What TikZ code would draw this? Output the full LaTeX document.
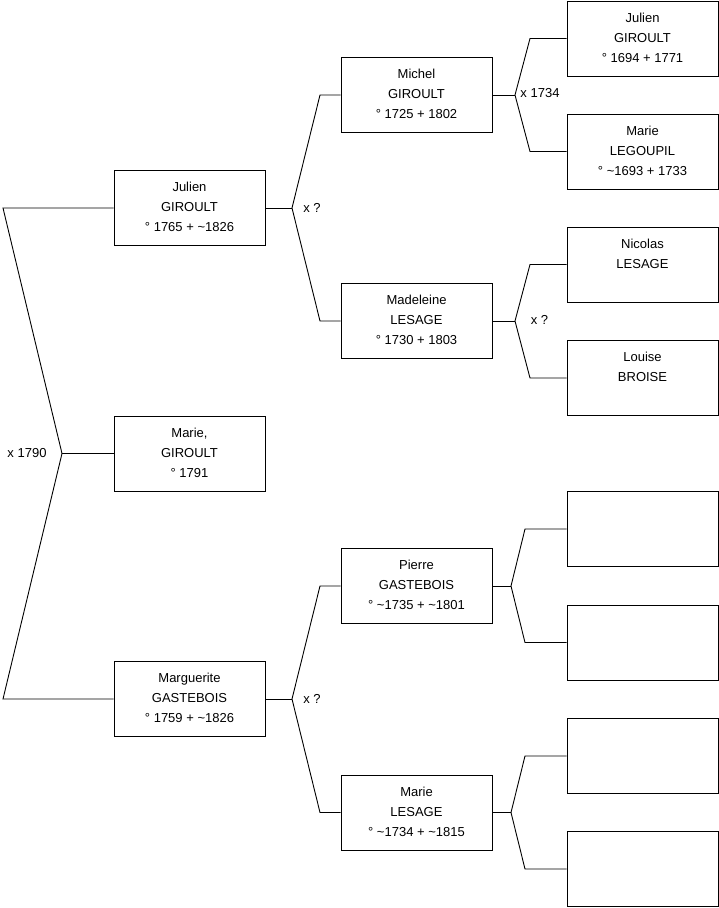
\documentclass[tikz,border=0pt]{standalone}
\usepackage{fontspec}
\setmainfont{Liberation Sans}
\begin{document}
\begin{tikzpicture}[
  x=1pt, y=-1pt,
  person/.style={rectangle, draw, minimum width=151pt, minimum height=75pt, inner sep=0pt,
    align=center, font=\fontsize{13}{20}\selectfont,
    execute at end node={\rule[-2pt]{0pt}{0pt}}},
  mlabel/.style={font=\fontsize{13}{20}\selectfont, inner sep=0pt},
  line width=0.9pt
]
  \useasboundingbox (0,0) rectangle (719,908);

  % 1ere generation
  \node[person] (julien) at (189.5, 208) {Julien\\GIROULT\\° 1765 + \textasciitilde1826};
  \node[person] (marie) at (189.5, 453.5) {Marie,\\GIROULT\\° 1791};
  \node[person] (marguerite) at (189.5, 699) {Marguerite\\GASTEBOIS\\° 1759 + \textasciitilde1826};

  % 2eme generation
  \node[person] (michel) at (416.5, 95) {Michel\\GIROULT\\° 1725 + 1802};
  \node[person] (madeleine) at (416.5, 321) {Madeleine\\LESAGE\\° 1730 + 1803};
  \node[person] (pierre) at (416.5, 586) {Pierre\\GASTEBOIS\\° \textasciitilde1735 + \textasciitilde1801};
  \node[person] (marieL) at (416.5, 812.5) {Marie\\LESAGE\\° \textasciitilde1734 + \textasciitilde1815};

  % 3eme generation
  \node[person] (julienG) at (642.5, 38.5) {Julien\\GIROULT\\° 1694 + 1771};
  \node[person] (marieP) at (642.5, 151.5) {Marie\\LEGOUPIL\\° \textasciitilde1693 + 1733};
  \node[person] (nicolas) at (642.5, 264.5) {Nicolas\\LESAGE\\};
  \node[person] (louise) at (642.5, 378) {Louise\\BROISE\\};
  \node[person] (e1) at (642.5, 529) {};
  \node[person] (e2) at (642.5, 642.5) {};
  \node[person] (e3) at (642.5, 756) {};
  \node[person] (e4) at (642.5, 869) {};

  % Accolades
  \coordinate (r0) at (62, 453.5);
  \coordinate (r1) at (3, 208);
  \coordinate (r2) at (3, 699);
  \draw (julien.west) -- (r1) -- (r0) -- (r2) -- (marguerite.west);
  \draw (r0) -- (marie.west);
  \node[mlabel] (x0) at (27, 453) {x 1790};

  \coordinate (a0) at (292, 208);
  \draw (julien.east) -- (a0);
  \draw (michel.west) -- (320, 95) -- (a0) -- (320, 321) -- (madeleine.west);
  \node[mlabel] (xa) at (312, 208) {x ?};

  \coordinate (b0) at (292, 699);
  \draw (marguerite.east) -- (b0);
  \draw (pierre.west) -- (320, 586) -- (b0) -- (320, 812.5) -- (marieL.west);
  \node[mlabel] (xb) at (312, 699) {x ?};

  \coordinate (c0) at (515, 95);
  \draw (michel.east) -- (c0);
  \draw (julienG.west) -- (530, 38.5) -- (c0) -- (530, 151.5) -- (marieP.west);
  \node[mlabel] (xc) at (540, 93) {x 1734};

  \coordinate (d0) at (515, 321);
  \draw (madeleine.east) -- (d0);
  \draw (nicolas.west) -- (530, 264.5) -- (d0) -- (530, 378) -- (louise.west);
  \node[mlabel] (xd) at (539.5, 320) {x ?};

  \coordinate (f0) at (511, 586);
  \draw (pierre.east) -- (f0);
  \draw (e1.west) -- (525, 529) -- (f0) -- (525, 642.5) -- (e2.west);

  \coordinate (g0) at (511, 812.5);
  \draw (marieL.east) -- (g0);
  \draw (e3.west) -- (525, 756) -- (g0) -- (525, 869) -- (e4.west);
\end{tikzpicture}
\end{document}
